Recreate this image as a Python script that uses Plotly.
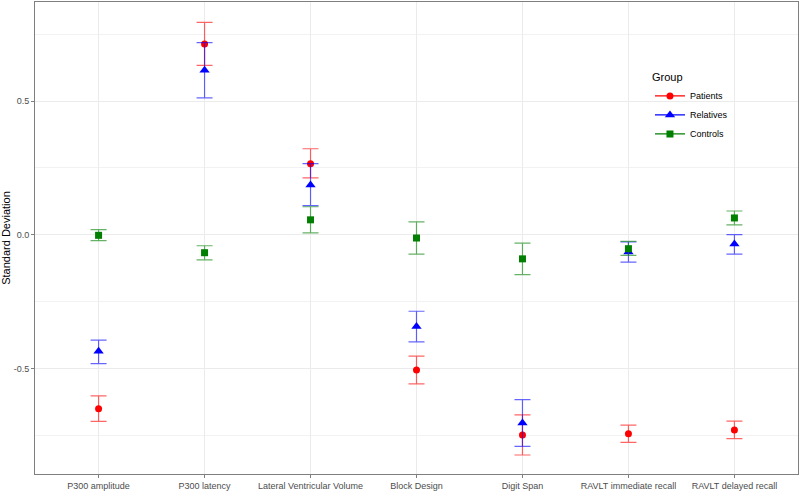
import plotly.graph_objects as go

categories = ["P300 amplitude", "P300 latency", "Lateral Ventricular Volume", "Block Design",
              "Digit Span", "RAVLT immediate recall", "RAVLT delayed recall"]

patients_mean = [-0.651, 0.714, 0.266, -0.506, -0.749, -0.744, -0.730]
patients_low = [-0.698, 0.634, 0.213, -0.558, -0.824, -0.777, -0.763]
patients_high = [-0.603, 0.795, 0.322, -0.454, -0.674, -0.712, -0.697]

relatives_mean = [-0.436, 0.616, 0.186, -0.343, -0.704, -0.064, -0.034]
relatives_low = [-0.482, 0.512, 0.109, -0.401, -0.792, -0.102, -0.072]
relatives_high = [-0.394, 0.719, 0.266, -0.286, -0.617, -0.027, 0.001]

controls_mean = [-0.002, -0.067, 0.056, -0.012, -0.090, -0.052, 0.063]
controls_low = [-0.022, -0.094, 0.007, -0.072, -0.149, -0.077, 0.037]
controls_high = [0.019, -0.041, 0.105, 0.048, -0.031, -0.025, 0.089]

groups = [
    ("Patients", patients_mean, patients_low, patients_high, "#FF0000", "rgba(255,0,0,0.6)", "circle", 7),
    ("Relatives", relatives_mean, relatives_low, relatives_high, "#0000FF", "rgba(0,0,255,0.6)", "triangle-up", 9),
    ("Controls", controls_mean, controls_low, controls_high, "#007F00", "rgba(0,127,0,0.6)", "square", 7),
]

fig = go.Figure()
x_idx = list(range(len(categories)))
for name, m, lo, hi, col, ecol, sym, sz in groups:
    fig.add_trace(go.Scatter(
        x=x_idx, y=m, mode="markers", name=name, showlegend=False,
        marker=dict(color=col, symbol=sym, size=sz),
        error_y=dict(type="data", symmetric=False,
                     array=[h - v for h, v in zip(hi, m)],
                     arrayminus=[v - l for v, l in zip(m, lo)],
                     color=ecol, thickness=1.2, width=8),
    ))
for name, m, lo, hi, col, ecol, sym, sz in groups:
    fig.add_trace(go.Scatter(
        x=[None], y=[None], mode="lines+markers", name=name,
        line=dict(color=col, width=1.2),
        marker=dict(color=col, symbol=sym, size=sz),
    ))

fig.update_layout(
    width=800, height=491,
    margin=dict(l=35, r=2, t=2, b=17, pad=0),
    plot_bgcolor="white", paper_bgcolor="white",
    font=dict(family="Liberation Sans, Arial", size=9, color="#4D4D4D"),
    legend=dict(x=0.806, y=0.862, xanchor="left", yanchor="top",
                title=dict(text="Group", font=dict(size=11, color="black")),
                font=dict(size=9, color="black"), bgcolor="rgba(0,0,0,0)",
                itemwidth=30, tracegroupgap=0),
)
fig.update_xaxes(
    range=[-0.6, 6.6], tickvals=x_idx, ticktext=categories, automargin=False,
    showgrid=True, gridcolor="#EBEBEB", gridwidth=1,
    showline=True, linecolor="#7F7F7F", linewidth=1, mirror=True,
    ticks="outside", ticklen=3, tickcolor="#7F7F7F",
    zeroline=False, tickfont=dict(size=9, color="#4D4D4D"),
)
fig.update_yaxes(
    range=[-0.895, 0.871], tickvals=[-0.5, 0.0, 0.5], ticktext=["-0.5", "0.0", "0.5"], automargin=False,
    showgrid=True, gridcolor="#EBEBEB", gridwidth=1,
    minor=dict(tickvals=[-0.75, -0.25, 0.25, 0.75], showgrid=True, gridcolor="#F2F2F2", gridwidth=1, ticks=""),
    showline=True, linecolor="#7F7F7F", linewidth=1, mirror=True,
    ticks="outside", ticklen=3, tickcolor="#7F7F7F",
    zeroline=False, tickfont=dict(size=9, color="#4D4D4D"),
    title=dict(text="Standard Deviation", font=dict(size=11, color="black"), standoff=4),
)

fig.write_html("out.html", config={"displayModeBar": False},
               post_script="document.body.style.margin='0';document.body.style.overflow='hidden';")
